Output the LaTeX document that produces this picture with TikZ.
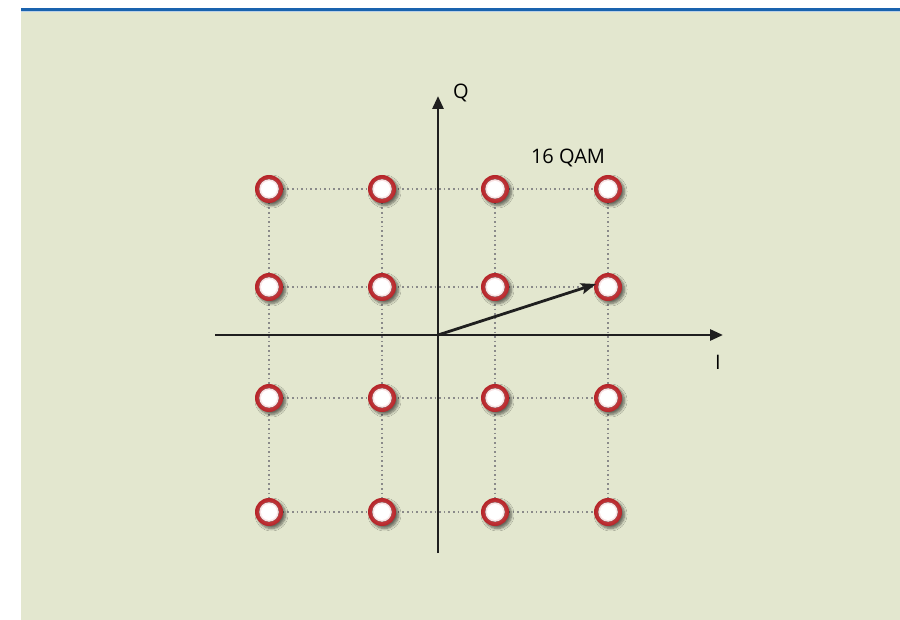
\documentclass[tikz,border=0pt]{standalone}
\usepackage{fontspec}
\setmainfont{Open Sans}
\usetikzlibrary{arrows.meta,shadows.blur}
\definecolor{cream}{HTML}{E3E7CF}
\definecolor{topblue}{HTML}{1A63AE}
\definecolor{ringred}{HTML}{D42A2F}
\definecolor{gridgray}{HTML}{8A8A8A}
\tikzset{
  axis/.style={line width=2.8pt, draw=black!88, -{Triangle[length=13pt,width=11pt]}},
  vec/.style={line width=2.8pt, draw=black!88, -{Stealth[length=15pt,width=11pt,inset=3pt]}},
  gridline/.style={draw=gridgray, line width=1.6pt, dash pattern=on 1.6pt off 3pt},
  pt/.style={circle, minimum size=28pt, inner sep=0pt, draw=none,
    inner color=ringred!75!white, outer color=ringred!85!black,
    blur shadow={shadow xshift=2.5pt, shadow yshift=-2.5pt, shadow blur radius=2.5pt, shadow opacity=55, shadow blur steps=6}},
  lbl/.style={font=\fontsize{20}{24}\selectfont, text=black}
}
\begin{document}
\begin{tikzpicture}[x=1pt,y=-1pt]
\useasboundingbox (0,0) rectangle (900,620);
\fill[white] (0,0) rectangle (900,620);
\fill[cream] (21,12) rectangle (900,620);
\fill[topblue] (21,8) rectangle (900,11.5);
\fill[topblue!30!white] (21,11.5) rectangle (900,12.5);
% grid
\foreach \y in {189,287,398,512} {\draw[gridline] (269,\y) -- (608,\y);}
\foreach \x in {269,382,495,608} {\draw[gridline] (\x,189) -- (\x,512);}
% axes
\coordinate (o) at (438,335);
\coordinate (xs) at (215,335);
\coordinate (xe) at (723,335);
\coordinate (ys) at (438,553);
\coordinate (ye) at (438,96);
\draw[axis] (xs) -- (xe);
\draw[axis] (ys) -- (ye);
% points
\foreach \x [count=\i] in {269,382,495,608} {
  \foreach \y [count=\j] in {189,287,398,512} {
    \node[pt] (p\i\j) at (\x,\y) {};
    \fill[inner color=white, outer color=white!85!ringred] (\x,\y) circle (9.8pt);
    \fill[white] (\x,\y) circle (8pt);
  }
}
\draw[vec] (o) -- ([shift={(-12pt,3pt)}]p42.center);
\node[lbl] (q) at (461,93) {Q};
\node[lbl] (i) at (718,362) {I};
\node[lbl] (t) at (568,158) {16 QAM};
\end{tikzpicture}
\end{document}
